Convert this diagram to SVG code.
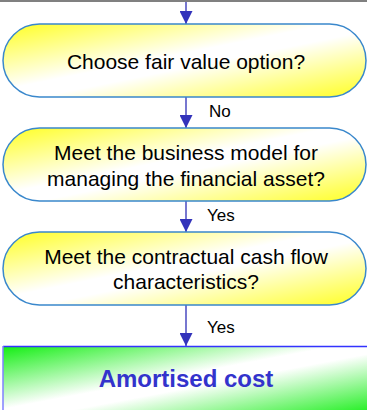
<svg xmlns="http://www.w3.org/2000/svg" width="367" height="410" viewBox="0 0 367 410">
<defs>
<linearGradient id="gy" x1="0" y1="0" x2="1" y2="1">
<stop offset="0" stop-color="#ffff22"/>
<stop offset="0.45" stop-color="#ffffff"/>
<stop offset="0.55" stop-color="#ffffff"/>
<stop offset="1" stop-color="#ffff22"/>
</linearGradient>
<linearGradient id="gg" x1="0" y1="0" x2="1" y2="1">
<stop offset="0" stop-color="#11ee11"/>
<stop offset="0.45" stop-color="#ffffff"/>
<stop offset="0.55" stop-color="#ffffff"/>
<stop offset="1" stop-color="#11ee11"/>
</linearGradient>
<marker id="ah" markerWidth="13" markerHeight="13" refX="13" refY="6.5" orient="auto" markerUnits="userSpaceOnUse">
<path d="M0,0 L13,6.5 L0,13 Z" fill="#3333bb"/>
</marker>
</defs>
<style>
.pill{fill:url(#gy);stroke:#3a88cc;stroke-width:1.5}
.t{font-family:"Liberation Sans",Arial,sans-serif;font-size:21px;fill:#000;text-anchor:middle}
.lb{font-family:"Liberation Sans",Arial,sans-serif;font-size:17px;fill:#000}
.c{stroke:#7777d0;stroke-width:2;fill:none;marker-end:url(#ah)}
</style>
<line x1="0" y1="1" x2="367" y2="1" stroke="#808080" stroke-width="2"/>
<g id="connectors">
<line class="c" x1="186" y1="2" x2="186" y2="24"/>
<line class="c" x1="186" y1="97" x2="186" y2="128"/>
<line class="c" x1="186" y1="201" x2="186" y2="232"/>
<line class="c" x1="186" y1="305" x2="186" y2="346"/>
<text class="lb" x="209" y="117">No</text>
<text class="lb" x="207" y="221">Yes</text>
<text class="lb" x="207" y="333">Yes</text>
</g>
<g id="n1">
<rect class="pill" x="3" y="24" width="363" height="73" rx="36.5" ry="36.5"/>
<text class="t" x="186" y="69">Choose fair value option?</text>
</g>
<g id="n2">
<rect class="pill" x="3" y="128" width="363" height="73" rx="36.5" ry="36.5"/>
<text class="t" x="186" y="160">Meet the business model for</text>
<text class="t" x="186" y="186">managing the financial asset?</text>
</g>
<g id="n3">
<rect class="pill" x="3" y="232" width="363" height="73" rx="36.5" ry="36.5"/>
<text class="t" x="186" y="264">Meet the contractual cash flow</text>
<text class="t" x="186" y="289">characteristics?</text>
</g>
<g id="n4">
<rect x="3" y="346" width="370" height="70" fill="url(#gg)" stroke="none"/>
<line x1="3" y1="346.5" x2="367" y2="346.5" stroke="#3333ff" stroke-width="1.5"/>
<line x1="3" y1="346" x2="3" y2="410" stroke="#8080ff" stroke-width="1.5"/>
<text x="186" y="387" font-family="'Liberation Sans',Arial,sans-serif" font-size="24" font-weight="bold" fill="#3333cc" text-anchor="middle">Amortised cost</text>
</g>
</svg>
